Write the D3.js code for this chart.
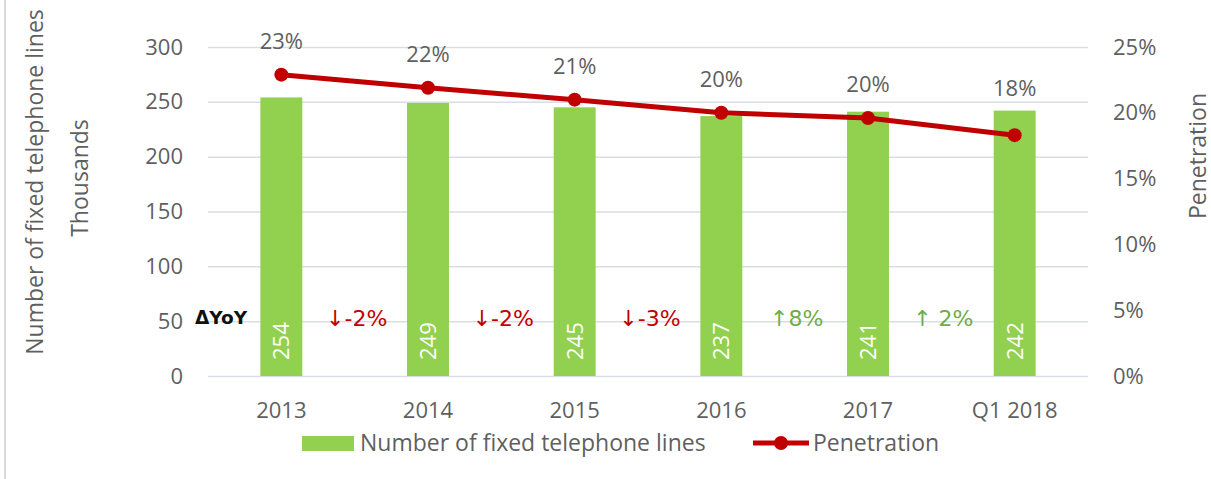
<!DOCTYPE html>
<html>
<head>
<meta charset="utf-8">
<script src="https://cdn.jsdelivr.net/npm/d3@7"></script>
<style>
  body { margin: 0; background: #fff; }
  svg { display: block; font-family: "Open Sans", sans-serif; }
</style>
</head>
<body>
<svg class="svg-canvas" width="1211" height="479"></svg>
<script>
// chart data
const categories = ["2013", "2014", "2015", "2016", "2017", "Q1 2018"];
const lines = [254, 249, 245, 237, 241, 242];            // thousands
const penetration = [0.229, 0.219, 0.21, 0.2, 0.196, 0.183];
const penLabels = ["23%", "22%", "21%", "20%", "20%", "18%"];
const yoyLabels = ["↓-2%", "↓-2%", "↓-3%", "↑8%", "↑ 2%"];
const yoyUp = [false, false, false, true, true];
const leftTicks = [0, 50, 100, 150, 200, 250, 300];
const rightTicks = [0, 0.05, 0.1, 0.15, 0.2, 0.25];

const svg = d3.select('.svg-canvas');
const textGrey = '#5f5f5f';
const barGreen = '#92D050';
const lineRed = '#C00000';
const upGreen = '#70AD47';

const plotLeft = 208, plotRight = 1088, plotTop = 47, plotBottom = 376;

// left border of the chart box
svg.append('line')
    .attr('x1', 5).attr('x2', 5).attr('y1', 0).attr('y2', 479)
    .attr('stroke', '#d9d9d9').attr('stroke-width', 2);

const x = d3.scaleBand()
    .domain(categories)
    .range([plotLeft, plotRight])
    .paddingInner(0.714)
    .paddingOuter(0.357);

const yL = d3.scaleLinear().domain([0, 300]).range([plotBottom, plotTop]);
const yR = d3.scaleLinear().domain([0, 0.25]).range([plotBottom, plotTop]);

// gridlines
const grid = svg.append('g').attr('transform', `translate(${plotLeft},0)`)
    .call(d3.axisLeft(yL).tickValues(leftTicks).tickSize(-(plotRight - plotLeft)).tickFormat(''));
grid.select('.domain').remove();
grid.selectAll('line').attr('stroke', '#d9dee6').attr('stroke-width', 1.5);

// left axis
const yAxisL = svg.append('g').attr('transform', `translate(${plotLeft},0)`)
    .call(d3.axisLeft(yL).tickValues(leftTicks).tickSize(0).tickPadding(25));
yAxisL.select('.domain').remove();
yAxisL.selectAll('text').attr('font-size', 22).attr('fill', textGrey)
    .attr('font-family', '"Open Sans", sans-serif');

// right axis
const yAxisR = svg.append('g').attr('transform', `translate(${plotRight},0)`)
    .call(d3.axisRight(yR).tickValues(rightTicks).tickSize(0).tickPadding(25)
        .tickFormat(d3.format('.0%')));
yAxisR.select('.domain').remove();
yAxisR.selectAll('text').attr('font-size', 22).attr('fill', textGrey)
    .attr('font-family', '"Open Sans", sans-serif');

// x axis
const xAxis = svg.append('g').attr('transform', `translate(0,${plotBottom})`)
    .call(d3.axisBottom(x).tickSize(0).tickPadding(26));
xAxis.select('.domain').remove();
xAxis.selectAll('text').attr('font-size', 22).attr('fill', textGrey)
    .attr('font-family', '"Open Sans", sans-serif');

// bars
svg.selectAll('rect.bar')
    .data(lines)
    .enter().append('rect')
    .attr('class', 'bar')
    .attr('x', (d, i) => x(categories[i]))
    .attr('width', x.bandwidth())
    .attr('y', d => yL(d))
    .attr('height', d => plotBottom - yL(d))
    .attr('fill', barGreen);

// bar value labels (rotated)
svg.selectAll('text.barval')
    .data(lines)
    .enter().append('text')
    .attr('class', 'barval')
    .attr('transform', (d, i) =>
        `translate(${x(categories[i]) + x.bandwidth() / 2},${plotBottom - 16}) rotate(-90)`)
    .attr('dy', '0.36em')
    .attr('font-size', 22)
    .attr('fill', '#fff')
    .text(d => d);

// penetration line
const cx = (d, i) => x(categories[i]) + x.bandwidth() / 2;
const line = d3.line().x(cx).y(d => yR(d));
svg.append('path')
    .datum(penetration)
    .attr('d', line)
    .attr('fill', 'none')
    .attr('stroke', lineRed)
    .attr('stroke-width', 5)
    .attr('stroke-linejoin', 'round');

svg.selectAll('circle.pt')
    .data(penetration)
    .enter().append('circle')
    .attr('class', 'pt')
    .attr('cx', cx)
    .attr('cy', d => yR(d))
    .attr('r', 7)
    .attr('fill', lineRed);

// labels sit above the point, but never on top of the bar
svg.selectAll('text.pen')
    .data(penetration)
    .enter().append('text')
    .attr('class', 'pen')
    .attr('x', cx)
    .attr('y', (d, i) => Math.min(yR(d) - 34, yL(lines[i]) - 23))
    .attr('dy', '0.36em')
    .attr('text-anchor', 'middle')
    .attr('font-size', 22)
    .attr('fill', textGrey)
    .text((d, i) => penLabels[i]);

// YoY change labels between bars
svg.append('text')
    .attr('x', 221).attr('y', 317).attr('dy', '0.36em')
    .attr('text-anchor', 'middle')
    .attr('font-family', '"DejaVu Sans", sans-serif')
    .attr('font-weight', 'bold')
    .attr('font-size', 18.5)
    .attr('fill', '#111')
    .text('ΔYoY');

svg.selectAll('text.yoy')
    .data(yoyLabels)
    .enter().append('text')
    .attr('class', 'yoy')
    .attr('x', (d, i) => (cx(0, i) + cx(0, i + 1)) / 2 + 2)
    .attr('y', 318).attr('dy', '0.36em')
    .attr('text-anchor', 'middle')
    .attr('font-family', '"DejaVu Sans", sans-serif')
    .attr('font-size', 22)
    .attr('fill', (d, i) => yoyUp[i] ? upGreen : lineRed)
    .text(d => d);

// axis titles
svg.append('text')
    .attr('transform', 'translate(35,182) rotate(-90)')
    .attr('text-anchor', 'middle').attr('dy', '0.35em')
    .attr('font-size', 23).attr('fill', textGrey)
    .text('Number of fixed telephone lines');
svg.append('text')
    .attr('transform', 'translate(80,178) rotate(-90)')
    .attr('text-anchor', 'middle').attr('dy', '0.35em')
    .attr('font-size', 23).attr('fill', textGrey)
    .text('Thousands');
svg.append('text')
    .attr('transform', 'translate(1198,156) rotate(-90)')
    .attr('text-anchor', 'middle').attr('dy', '0.35em')
    .attr('font-size', 23).attr('fill', textGrey)
    .text('Penetration');

// legend
const legend = svg.append('g');
legend.append('rect')
    .attr('x', 302).attr('y', 436).attr('width', 52).attr('height', 15)
    .attr('fill', barGreen);
legend.append('text')
    .attr('x', 360).attr('y', 443).attr('dy', '0.35em')
    .attr('font-size', 23).attr('fill', textGrey)
    .text('Number of fixed telephone lines');
legend.append('line')
    .attr('x1', 753).attr('x2', 809).attr('y1', 443).attr('y2', 443)
    .attr('stroke', lineRed).attr('stroke-width', 5);
legend.append('circle')
    .attr('cx', 781).attr('cy', 443).attr('r', 7).attr('fill', lineRed);
legend.append('text')
    .attr('x', 813).attr('y', 443).attr('dy', '0.35em')
    .attr('font-size', 23).attr('fill', textGrey)
    .text('Penetration');
</script>
</body>
</html>
